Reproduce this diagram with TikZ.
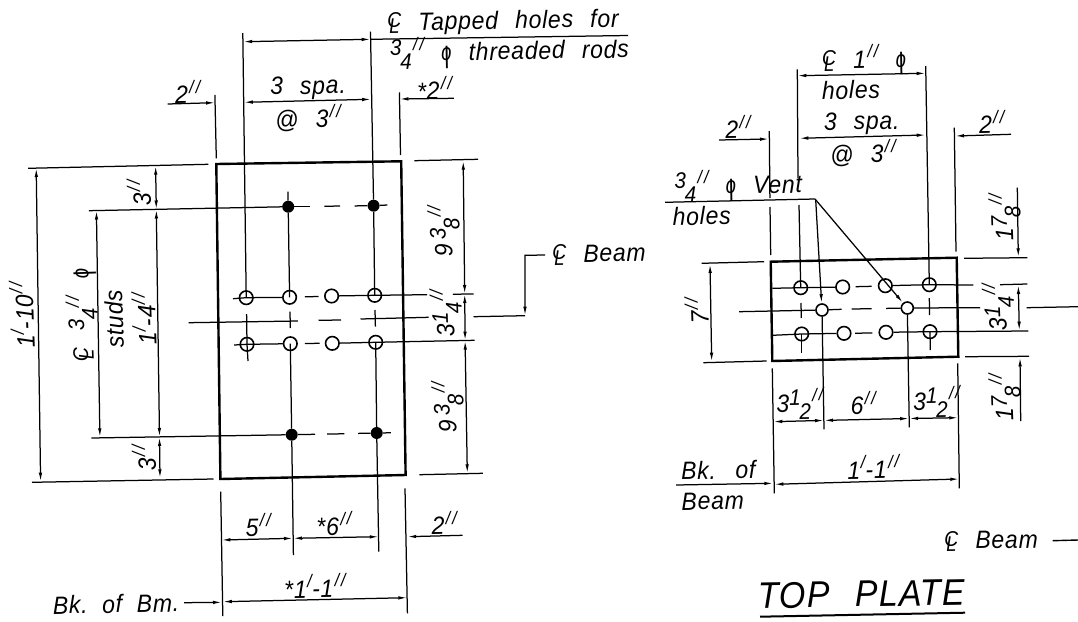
\documentclass[tikz,border=0pt]{standalone}
\usepackage{fontspec}
\setmainfont[LetterSpace=3,WordSpace=2.4,FakeStretch=.92]{Liberation Sans}
\usetikzlibrary{arrows.meta}
\newcommand\inch{\kern.06em\raisebox{.42em}{\scalebox{.72}{/\kern.1em/}}}
\newcommand\foot{\kern.03em\raisebox{.42em}{\scalebox{.72}{/}}}
\newcommand\fr[2]{\raisebox{.24em}{\scalebox{.9}{#1}}\kern-.06em\raisebox{-.32em}{\scalebox{.9}{#2}}}
\newcommand\CL{\ooalign{\raisebox{.12em}{\scalebox{.85}{C}}\cr\hidewidth\raisebox{-.1em}{\scalebox{.8}[.85]{L}}\hidewidth\cr}}
\newcommand\phis{\ooalign{\hfil\scalebox{.8}[.95]{o}\hfil\cr\hfil\raisebox{-.1em}{\scalebox{1}[.95]{|}}\hfil\cr}}
\tikzset{
  dl/.style={line width=1.25pt,black},
  dim/.style={dl,{Latex[length=9pt,width=3.5pt]}-{Latex[length=9pt,width=3.5pt]}},
  tip/.style={dl,-{Latex[length=9pt,width=3.5pt]}},
  plate/.style={line width=2.4pt,black},
  lb/.style={font=\fontsize{25}{28}\selectfont\itshape,inner sep=0pt,rotate=1,align=center},
  lbv/.style={lb,rotate=91},
  hole/.style={circle,draw,line width=1.6pt,minimum size=13.5pt,inner sep=0pt},
  vent/.style={hole,minimum size=12pt},
  stud/.style={circle,fill=black,minimum size=12pt,inner sep=0pt},
}
\begin{document}
\begin{tikzpicture}[x=1pt,y=-1pt]
\useasboundingbox (0,0) rectangle (1078,621);
% ---------- LEFT VIEW ----------
\draw[plate] (216.3,164) -- (401.2,161.3) -- (405.6,475) -- (220.4,479) -- cycle;
\node[hole] (a1) at (246.2,297.7) {};
\node[hole] (a2) at (289.6,297.3) {};
\node[hole] (a3) at (331.6,296) {};
\node[hole] (a4) at (374.7,295.3) {};
\node[hole] (b1) at (247,344.3) {};
\node[hole] (b2) at (290.3,343.7) {};
\node[hole] (b3) at (332.3,343.3) {};
\node[hole] (b4) at (375.7,342.3) {};
\node[stud] (s1) at (288.2,206.7) {};
\node[stud] (s2) at (373.6,205.7) {};
\node[stud] (s3) at (291.7,434.7) {};
\node[stud] (s4) at (376.7,433) {};
\coordinate (ax) at (233,298.7);
\coordinate (ay) at (427,294.7);
\coordinate (bx) at (234.2,345);
\coordinate (by) at (474.5,340.3);
% hole rows
\draw[dl] (ax) -- (a1.center) -- (a2);
\draw[dl] (a3) -- (a4.center) -- (ay);
\draw[dl] (304.8,296.8) -- (318.5,296.5);
\draw[dl] (bx) -- (b1.center) -- (b2);
\draw[dl] (b3) -- (b4.center) -- (by);
\draw[dl] (304.8,343.5) -- (319.6,343.3);
\draw[dl] (452.8,294.2) -- (473.5,294);
% centre row
\draw[dl] (188.7,322.7) -- (297.9,321);
\draw[dl] (318.5,320.3) -- (341,320);
\draw[dl] (360.5,319) -- (428.7,317.3);
% stud rows
\draw[dl] (88.8,210.7) -- (s1) ;
\draw[dl] (s1) -- (310,206.7);
\draw[dl] (324.4,206.3) -- (340,206);
\draw[dl] (354.7,205.9) -- (s2) -- (387.4,205);
\draw[dl] (91.3,438) -- (s3) -- (315,434.3);
\draw[dl] (327,434) -- (344.4,433.8);
\draw[dl] (358,433.4) -- (s4) -- (390.8,432.8);
% verticals
\draw[dl] (242.8,33) -- (a1.center);
\draw[dl] (246.6,314) -- (b1.center) -- (248,361);
\draw[dl] (288,191.7) -- (s1) -- (a2.center);
\draw[dl] (290,311.7) -- (290.3,328);
\draw[dl] (b2.center) -- (s3) -- (293.4,555);
\draw[dl] (370.5,31.7) -- (s2) -- (a4.center);
\draw[dl] (375,310) -- (375.4,326.7);
\draw[dl] (b4.center) -- (s4) -- (378.8,551.7);
% left dims
\draw[dl] (28.2,168.3) -- (208.3,164.3);
\draw[dl] (32,482.3) -- (213.5,479);
\draw[dim] (36.2,168) -- (40.6,481.7);
\draw[dim] (155.6,165.7) -- (156.3,209.5);
\draw[dim] (156.3,209.5) -- (159.5,437);
\draw[dim] (159.5,437) -- (160,478.3);
\draw[dim] (96.4,210.5) -- (99.9,437.3);
\node[lbv] (t10) at (22,315) {1\foot-10\inch};
\node[lbv] (t3a) at (139,193) {3\inch};
\node[lbv] (t3b) at (144,458) {3\inch};
\node[lbv] (t14) at (144,319) {1\foot-4\inch};
\node[lbv] (tst) at (114,319) {studs};
\node[lbv] (tcl) at (82,315) {\CL\ \fr{3}{4}\inch\ \phis};
% right dims
\draw[dl] (414.3,160.7) -- (478,159.3);
\draw[dl] (419.4,474.7) -- (482.8,473.3);
\draw[dim] (463.2,160.7) -- (464.7,294);
\draw[dim] (464.7,294) -- (465.1,340.6);
\draw[dim] (465.1,340.6) -- (467.3,473.3);
\node[lbv] (t93a) at (444,231) {9\kern.15em\fr{3}{8}\inch};
\node[lbv] (t93b) at (448,407) {9\kern.15em\fr{3}{8}\inch};
\node[lbv] (t31) at (446,313) {3\fr{1}{4}\inch};
% beam centre line
\coordinate (bm1) at (473.5,316.7);
\coordinate (bm2) at (525,315.7);
\coordinate (bm3) at (525,255.3);
\coordinate (bm4) at (545,255);
\draw[dl] (bm1) -- (bm2);
\draw[tip] (bm4) -- (bm3) -- (bm2);
\node[lb,anchor=west] (tbm) at (552,255) {\CL\ Beam};
% top dims
\draw[dim] (243.2,41.7) -- (370.7,39.3);
\draw[dl] (370.7,39.3) -- (628,35.5);
\node[lb,anchor=west] (ttp) at (387,24.5) {\CL\ Tapped holes for};
\node[lb,anchor=west] (tth) at (390,54) {\fr{3}{4}\inch\ \phis\ threaded rods};
\draw[dim] (243.8,102.3) -- (371.2,99.3);
\node[lb] (t3s) at (308,88) {3\ spa.};
\node[lb] (t3at) at (308,118) {@\ 3\inch};
\draw[tip] (167.7,104) -- (215.2,102.7);
\draw[dl] (214.9,95) -- (216.3,158.3);
\node[lb] (t2a) at (187.7,92) {2\inch};
\draw[tip] (453.9,98.3) -- (399.4,99);
\draw[dl] (399.4,92.3) -- (400.5,155);
\node[lb] (t2b) at (434.6,88) {*2\inch};
% bottom dims
\draw[dl] (220.7,491.7) -- (222.8,616);
\draw[dl] (405,488.3) -- (407.4,613.3);
\draw[dim] (221.4,540) -- (293,538.3);
\draw[dim] (293,538.3) -- (378.8,536.7);
\draw[tip] (462.5,535.3) -- (407.2,536.7);
\draw[dim] (222.8,601.7) -- (407.4,597.7);
\node[lb] (t5) at (258.3,525) {5\inch};
\node[lb] (t6) at (334,524) {*6\inch};
\node[lb] (t2c) at (444.2,523) {2\inch};
\node[lb] (t11) at (315,586) {*1\foot-1\inch};
\node[lb] (tbk) at (116,604) {Bk.\kern-.1em\ of\kern-.1em\ Bm.};
\draw[tip] (184.2,602.7) -- (222,602.3);
% ---------- RIGHT VIEW ----------
\draw[plate] (770.7,261.7) -- (956.7,257.7) -- (958.3,356.7) -- (772.3,361) -- cycle;
\node[hole] (c1) at (800.7,287.7) {};
\node[hole] (c2) at (842.7,287) {};
\node[hole] (c3) at (885.3,285.7) {};
\node[hole] (c4) at (929.3,284.7) {};
\node[hole] (d1) at (801.7,334) {};
\node[hole] (d2) at (844,333.3) {};
\node[hole] (d3) at (886,332.3) {};
\node[hole] (d4) at (930,331.7) {};
\node[vent] (v1) at (822,310) {};
\node[vent] (v2) at (907.3,308) {};
% rows
\draw[dl] (772.3,288.3) -- (c1.center) -- (c2);
\draw[dl] (855.7,286.7) -- (871.7,286.3);
\draw[dl] (c3) -- (c4.center) -- (973.3,285);
\draw[dl] (1000,284.7) -- (1027.3,284);
\draw[dl] (772.3,335.3) -- (d1.center) -- (d2);
\draw[dl] (855,333.2) -- (872.3,333);
\draw[dl] (d3) -- (d4.center) -- (1028.3,331);
\draw[dl] (739,311.7) -- (v1);
\draw[dl] (v1) -- (841.7,309.3);
\draw[dl] (851.7,309) -- (871.7,308.7);
\draw[dl] (886,308.4) -- (v2);
\draw[dl] (v2) -- (980,307.7);
\coordinate (beR) at (1078,306.7);
\draw[dl] (1026.7,307.7) -- (beR);
% verticals
\draw[dl] (797.3,69.3) -- (798,178);
\draw[dl] (799,205) -- (c1.center);
\draw[dl] (801,303) -- (801.3,318);
\draw[dl] (d1.center) -- (801.7,353);
\draw[dl] (925.7,66) -- (c4.center);
\draw[dl] (929.3,298) -- (929.6,315);
\draw[dl] (d4.center) -- (930.3,350);
\draw[tip] (815.7,200) -- (v1);
\draw[dl] (v1) -- (824,429.3);
\draw[dl] (v2) -- (909.3,427.3);
% leader
\coordinate (ld) at (815,199);
\draw[dl] (665,202.3) -- (ld);
\draw[tip] (ld) -- (v2);
\node[lb] (tvn) at (738.3,186) {\fr{3}{4}\inch\ \phis\ Vent};
\node[lb] (tho) at (701.7,216) {holes};
% top dims
\draw[dl] (769.3,131) -- (769.9,198);
\draw[dl] (770,207) -- (770.7,255);
\draw[tip] (719,140) -- (769,139);
\node[lb] (t2d) at (738,127) {2\inch};
\draw[dim] (799.3,138.3) -- (925.7,135);
\node[lb] (t3s2) at (861.7,123.5) {3\ spa.};
\node[lb] (t3a2) at (863,153) {@\ 3\inch};
\draw[dim] (797.3,75.7) -- (925.7,73.3);
\node[lb] (tcl1) at (864,60) {\CL\ 1\inch\ \phis};
\node[lb] (tho2) at (851,90) {holes};
\draw[dl] (954.3,127.7) -- (956,251.7);
\draw[tip] (1011,134.3) -- (955,136);
\node[lb] (t2e) at (991.7,122) {2\inch};
% right dims
\draw[dl] (964,258.3) -- (1027.3,257.7);
\draw[tip] (1017.3,187.7) -- (1018.3,257.3);
\node[lbv] (t17a) at (1005,217) {1\fr{7}{8}\inch};
\draw[dim] (1018.3,285) -- (1019.3,330.7);
\node[lbv] (t31b) at (998.3,307) {3\fr{1}{4}\inch};
\draw[dl] (965,356.7) -- (1029,356.3);
\draw[tip] (1020.7,421) -- (1020,357.3);
\node[lbv] (t17b) at (1005,397) {1\fr{7}{8}\inch};
% 7 inch
\draw[dl] (701.7,263.3) -- (764,261.7);
\draw[dl] (703.3,362.7) -- (766.7,361);
\draw[dim] (710,264) -- (711.7,361.7);
\node[lbv] (t7) at (696.7,311) {7\inch};
% bottom dims
\draw[dl] (772.3,368.3) -- (774.3,493.3);
\draw[dl] (957.7,363.3) -- (959.3,488.3);
\draw[dim] (773.3,421.7) -- (824,420.4);
\draw[dim] (824,420.4) -- (909.2,418.5);
\draw[dim] (909.2,418.5) -- (958.3,417.7);
\node[lb] (t32a) at (800,404) {3\fr{1}{2}\inch};
\node[lb] (t6b) at (863.3,403) {6\inch};
\node[lb] (t32b) at (936.7,402) {3\fr{1}{2}\inch};
\draw[dim] (774.3,484.3) -- (959.3,479);
\node[lb] (t11b) at (873.3,467) {1\foot-1\inch};
\draw[tip] (676,485) -- (773.3,483.3);
\node[lb] (tbk1) at (718.3,470) {Bk. of};
\node[lb] (tbk2) at (712.7,501) {Beam};
\node[lb,anchor=east] (tbm2) at (1038,540) {\CL\ Beam};
\coordinate (bme) at (1078,540);
\draw[line width=1.4pt] (1052.7,540.7) -- (bme);
\node[lb,font=\fontsize{37}{40}\selectfont\itshape] (tpl) at (861.7,594) {TOP\ PLATE};
\draw[line width=2pt] (760,616.7) -- (965,612.7);
\end{tikzpicture}
\end{document}
